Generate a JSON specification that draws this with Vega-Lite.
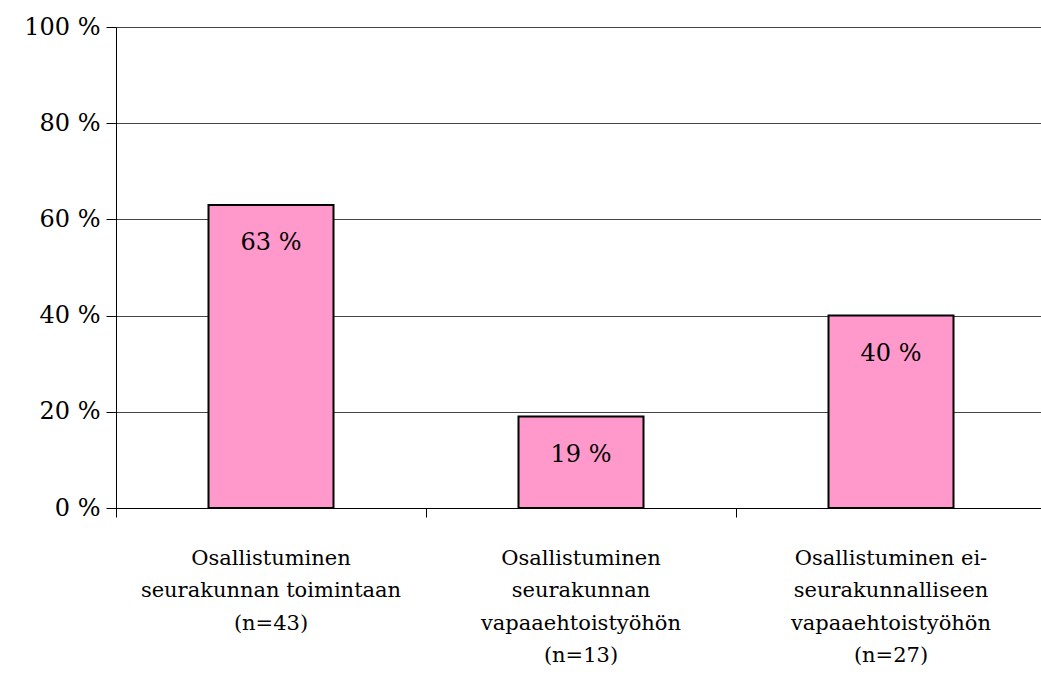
{
  "$schema": "https://vega.github.io/schema/vega-lite/v6.json",
  "width": 930,
  "height": 481,
  "autosize": "none",
  "padding": {"left": 116, "top": 27, "right": 0, "bottom": 190},
  "background": "white",
  "config": {
    "view": {"stroke": null},
    "font": "DejaVu Serif"
  },
  "data": {
    "values": [
      {"kategoria": "Osallistuminen|seurakunnan toimintaan|(n=43)", "osuus": 63, "teksti": "63 %"},
      {"kategoria": "Osallistuminen|seurakunnan|vapaaehtoistyöhön|(n=13)", "osuus": 19, "teksti": "19 %"},
      {"kategoria": "Osallistuminen ei-|seurakunnalliseen|vapaaehtoistyöhön|(n=27)", "osuus": 40, "teksti": "40 %"}
    ]
  },
  "encoding": {
    "x": {
      "field": "kategoria",
      "type": "nominal",
      "sort": null,
      "scale": {"paddingInner": 0, "paddingOuter": 0},
      "axis": {
        "title": null,
        "labelAngle": 0,
        "bandPosition": 0,
        "labelExpr": "split(datum.label, '|')",
        "labelFont": "DejaVu Serif",
        "labelFontSize": 21,
        "labelColor": "black",
        "labelLineHeight": 32.5,
        "labelPadding": 30,
        "labelLimit": 0,
        "domainColor": "black",
        "domainWidth": 1,
        "tickColor": "black",
        "tickSize": 9,
        "grid": false
      }
    },
    "y": {
      "field": "osuus",
      "type": "quantitative",
      "scale": {"domain": [0, 100], "nice": false},
      "axis": {
        "title": null,
        "values": [0, 20, 40, 60, 80, 100],
        "labelExpr": "datum.value + ' %'",
        "labelFont": "DejaVu Serif",
        "labelFontSize": 24,
        "labelColor": "black",
        "labelPadding": 6,
        "domainColor": "black",
        "tickColor": "black",
        "tickSize": 10,
        "grid": true,
        "gridColor": "#444444",
        "gridWidth": 1,
        "gridOpacity": 1
      }
    }
  },
  "layer": [
    {
      "mark": {"type": "bar", "width": 125, "color": "#FF99CC", "stroke": "black", "strokeWidth": 2}
    },
    {
      "mark": {"type": "text", "baseline": "middle", "align": "center", "dy": 38, "fontSize": 24, "font": "DejaVu Serif", "color": "black"},
      "encoding": {"text": {"field": "teksti"}}
    }
  ]
}
